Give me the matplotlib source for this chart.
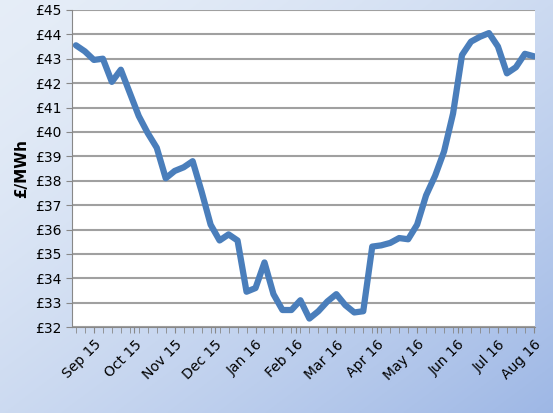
import numpy as np
import matplotlib
matplotlib.use("Agg")
import matplotlib.pyplot as plt

prices = [43.55, 43.3, 42.95, 43.0, 42.05, 42.55, 41.6, 40.65, 39.95, 39.35,
          38.1, 38.4, 38.55, 38.8, 37.55, 36.2, 35.55, 35.8, 35.55, 33.45,
          33.6, 34.65, 33.35, 32.7, 32.7, 33.1, 32.35, 32.65, 33.05, 33.35,
          32.9, 32.6, 32.65, 35.3, 35.35, 35.45, 35.65, 35.6, 36.2, 37.4,
          38.2, 39.2, 40.75, 43.15, 43.7, 43.9, 44.05, 43.5, 42.4, 42.65,
          43.2, 43.1]
month_labels = ["Sep 15", "Oct 15", "Nov 15", "Dec 15", "Jan 16", "Feb 16",
                "Mar 16", "Apr 16", "May 16", "Jun 16", "Jul 16", "Aug 16"]
month_pos = [2, 6.5, 11, 15.5, 20, 24.5, 29, 33.5, 38, 42.5, 47, 51]

fig = plt.figure(figsize=(5.53, 4.13), dpi=100)

# gradient background
bg = fig.add_axes([0, 0, 1, 1], zorder=-10)
gx, gy = np.meshgrid(np.linspace(0, 1, 200), np.linspace(0, 1, 200))
g = (gx + gy) / 2
c0 = np.array([0.90, 0.93, 0.97])
c1 = np.array([0.62, 0.72, 0.90])
img = c0 + (c1 - c0) * g[..., None] ** 1.5
bg.imshow(img, aspect="auto", extent=[0, 1, 0, 1], origin="upper")
bg.axis("off")

ax = fig.add_axes([0.130, 0.208, 0.837, 0.768])
ax.set_facecolor("white")
x = np.arange(len(prices))
ax.plot(x, prices, color="#4a7ebb", lw=4.5, solid_joinstyle="round", solid_capstyle="round")
ax.set_xlim(-0.45, 51.1)
ax.set_ylim(32, 45)
ax.set_yticks(range(32, 46))
ax.set_yticklabels([f"£{v}" for v in range(32, 46)], fontsize=10)
ax.grid(axis="y", color="#a0a0a0", lw=1.5)
ax.set_axisbelow(True)
ax.set_xticks(month_pos)
ax.set_xticklabels(month_labels, rotation=45, ha="right", rotation_mode="anchor", fontsize=10)
ax.set_xticks(x, minor=True)
ax.tick_params(axis="x", which="both", length=4, direction="out", color="#888888")
ax.tick_params(axis="y", length=4, color="#888888")
for s in ["top", "right"]:
    ax.spines[s].set_visible(False)
for s in ["left", "bottom"]:
    ax.spines[s].set_color("#888888")
ax.set_ylabel("£/MWh", fontsize=11, fontweight="bold", labelpad=4)

fig.savefig("out.png", dpi=100)
